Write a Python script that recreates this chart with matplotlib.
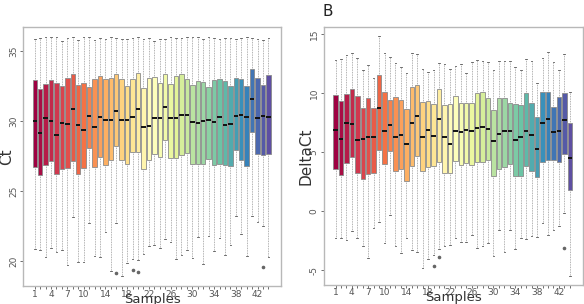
import numpy as np
import matplotlib.pyplot as plt

# sample numbers and the labels R kept on the axis
samples = list(range(1, 45))
shown_labels = [1, 4, 7, 10, 14, 18, 22, 26, 30, 34, 38, 42]

# panel A: Ct
ct_q1 = [26.67, 26.10, 26.84, 27.12, 26.20, 26.53, 26.62, 27.12, 26.20, 26.60, 28.03,
         26.67, 27.39, 26.86, 27.20, 28.19, 27.24, 26.89, 27.79, 27.79, 26.53, 27.17,
         27.62, 27.43, 28.62, 27.36, 27.34, 27.53, 27.72, 26.91, 26.93, 26.91, 27.29,
         26.84, 26.91, 26.84, 26.79, 27.91, 27.20, 26.77, 29.22, 27.62, 27.53, 27.62]
ct_med = [30.00, 29.14, 30.21, 30.00, 29.00, 29.86, 29.81, 30.88, 29.69, 29.38, 30.33,
          29.57, 30.31, 30.05, 30.05, 30.69, 30.05, 30.05, 30.29, 30.83, 29.55, 29.62,
          30.19, 30.19, 31.02, 30.19, 30.19, 30.43, 30.43, 29.93, 29.86, 29.98, 30.05,
          29.95, 30.29, 29.71, 29.76, 30.36, 30.45, 30.24, 31.57, 30.19, 30.33, 30.29]
ct_q3 = [32.90, 32.31, 32.66, 32.95, 32.73, 32.50, 33.09, 33.38, 32.54, 32.69, 32.42,
         32.97, 33.19, 33.00, 33.07, 33.38, 33.02, 32.47, 33.00, 33.40, 32.38, 33.09,
         33.11, 32.69, 33.38, 32.61, 33.19, 33.38, 33.02, 32.57, 32.83, 32.78, 32.40,
         32.90, 32.97, 32.88, 32.47, 33.07, 33.02, 32.50, 33.68, 33.04, 32.57, 33.28]
ct_lo = [20.82, 20.78, 20.30, 20.90, 20.66, 20.78, 19.71, 23.15, 19.95, 19.90, 22.68,
         20.35, 20.28, 22.08, 19.30, 22.68, 18.92, 19.83, 20.16, 20.07, 20.47, 21.06,
         21.13, 20.90, 21.54, 21.37, 20.14, 20.42, 20.78, 20.23, 21.68, 19.76, 21.78,
         20.71, 21.66, 20.42, 21.13, 23.20, 21.89, 20.35, 23.20, 22.77, 22.49, 20.28]
ct_hi = [35.87, 35.90, 36.00, 36.00, 36.00, 35.70, 35.95, 36.00, 35.80, 36.00, 36.00,
         35.80, 35.94, 35.87, 35.99, 35.94, 35.82, 35.82, 35.94, 36.00, 35.82, 35.94,
         35.70, 35.87, 35.87, 36.00, 35.94, 35.94, 36.00, 36.00, 36.00, 35.87, 36.00,
         35.94, 35.82, 35.94, 35.94, 35.82, 35.92, 36.00, 35.94, 35.82, 35.80, 35.94]
ct_out_sample = [16, 19, 20, 43]
ct_out_value = [19.16, 19.35, 19.17, 19.54]

# panel B: DeltaCt
dct_q1 = [3.55, 3.07, 4.06, 4.57, 3.21, 2.73, 3.13, 3.21, 5.19, 4.00, 5.05,
          3.36, 3.55, 2.51, 3.84, 4.68, 3.41, 3.70, 3.84, 4.20, 3.20, 3.20,
          4.23, 3.90, 4.10, 3.90, 4.20, 4.20, 4.30, 2.95, 3.60, 3.70, 4.00,
          2.95, 2.95, 3.85, 3.40, 2.90, 4.20, 4.30, 4.30, 4.20, 4.80, 1.80]
dct_med = [6.89, 6.10, 7.46, 7.40, 6.04, 6.10, 6.27, 6.32, 8.73, 6.75, 7.31,
           6.32, 6.47, 5.70, 7.46, 8.02, 6.27, 6.89, 6.38, 7.79, 6.25, 5.67,
           6.75, 6.69, 6.90, 6.80, 7.00, 7.10, 6.95, 5.90, 6.50, 6.75, 6.75,
           6.05, 6.30, 6.80, 6.45, 5.30, 7.50, 7.80, 6.70, 6.75, 7.70, 4.50]
dct_q3 = [9.80, 9.29, 9.92, 10.37, 9.77, 8.75, 9.55, 8.78, 11.55, 10.08, 9.43,
          9.66, 9.43, 8.64, 10.51, 10.65, 9.24, 9.29, 9.07, 10.34, 9.00, 9.10,
          9.75, 9.20, 9.20, 9.20, 10.00, 10.10, 9.60, 8.60, 9.60, 9.60, 9.20,
          9.10, 9.00, 10.00, 9.20, 8.00, 10.10, 10.10, 8.80, 9.70, 10.00, 7.50]
dct_lo = [-2.30, -2.30, -2.44, -1.68, -2.30, -3.00, -4.00, -1.45, -0.97, -2.72, -0.32,
          -3.00, -3.57, -2.30, -3.29, -3.49, -4.84, -4.08, -3.71, -3.20, -3.00, -2.90,
          -2.30, -2.60, -2.60, -2.00, -3.10, -3.00, -2.70, -3.80, -1.60, -3.50, -1.60,
          -3.20, -2.30, -2.40, -2.10, -2.20, -1.00, -2.00, -1.60, -1.30, -0.20, -5.50]
dct_hi = [12.77, 12.88, 13.25, 13.39, 12.97, 12.00, 12.40, 11.27, 14.81, 13.39, 13.03,
          12.54, 12.18, 11.70, 13.39, 13.31, 12.04, 11.75, 11.98, 12.54, 12.49, 12.04,
          12.26, 12.46, 11.70, 12.60, 12.80, 12.70, 12.60, 12.00, 12.70, 12.70, 12.70,
          12.20, 12.00, 12.90, 12.70, 10.90, 13.00, 13.50, 12.60, 12.00, 13.30, 10.10]
dct_out_sample = [19, 20, 43]
dct_out_value = [-4.62, -3.90, -3.10]


def make_stats(q1, med, q3, lo, hi, out_s, out_v):
    stats = []
    for i, s in enumerate(samples):
        fl = [v for k, v in zip(out_s, out_v) if k == s]
        stats.append(dict(q1=q1[i], med=med[i], q3=q3[i], whislo=lo[i], whishi=hi[i], fliers=fl))
    return stats


def draw_panel(ax, stats, ylabel, yticks, ylim, ylab_x):
    colors = plt.cm.Spectral(np.linspace(0, 1, len(samples)))
    bp = ax.bxp(stats, positions=samples, widths=0.82, patch_artist=True,
                capwidths=0.3,
                boxprops=dict(edgecolor='#8a8a8a', linewidth=0.6),
                medianprops=dict(color='#111111', linewidth=1.4),
                whiskerprops=dict(color='#999999', linestyle=(0, (1, 1)), linewidth=0.6),
                capprops=dict(color='#555555', linewidth=0.6),
                flierprops=dict(marker='o', markersize=1.6, markerfacecolor='#666666',
                                markeredgecolor='#666666'))
    for patch, c in zip(bp['boxes'], colors):
        patch.set_facecolor(c)
    ax.set_xlim(-1.2, 46.4)
    ax.set_ylim(*ylim)
    ax.set_xticks(samples)
    ax.set_xticklabels([str(s) if s in shown_labels else '' for s in samples])
    ax.set_yticks(yticks)
    ax.set_yticklabels([str(t) for t in yticks], rotation=90, va='center')
    ax.tick_params(axis='both', labelsize=6.5, colors='#555555', length=2, width=0.6,
                   pad=1.5)
    ax.tick_params(axis='x', pad=0.5)
    for sp in ax.spines.values():
        sp.set_color('#b8b8b8')
        sp.set_linewidth(1.0)
    ax.set_xlabel('Samples', fontsize=9.5, color='#333333', va='center')
    ax.xaxis.set_label_coords(0.5, -0.05)
    ax.set_ylabel(ylabel, fontsize=11, color='#333333', va='center')
    ax.yaxis.set_label_coords(ylab_x, 0.5)


fig = plt.figure(figsize=(5.84, 3.04), dpi=100)
ax1 = fig.add_axes([0.039, 0.059, 0.443, 0.852])
ax2 = fig.add_axes([0.554, 0.0625, 0.444, 0.850])

draw_panel(ax1, make_stats(ct_q1, ct_med, ct_q3, ct_lo, ct_hi, ct_out_sample, ct_out_value),
           'Ct', [20, 25, 30, 35], (18.2, 36.7), -0.063)
draw_panel(ax2, make_stats(dct_q1, dct_med, dct_q3, dct_lo, dct_hi, dct_out_sample, dct_out_value),
           'DeltaCt', [-5, 0, 5, 10, 15], (-6.27, 15.64), -0.068)

fig.text(322 / 584, 1 - 12 / 304, 'B', fontsize=11, color='#222222', ha='left', va='center')

fig.savefig('out.png', dpi=100)
